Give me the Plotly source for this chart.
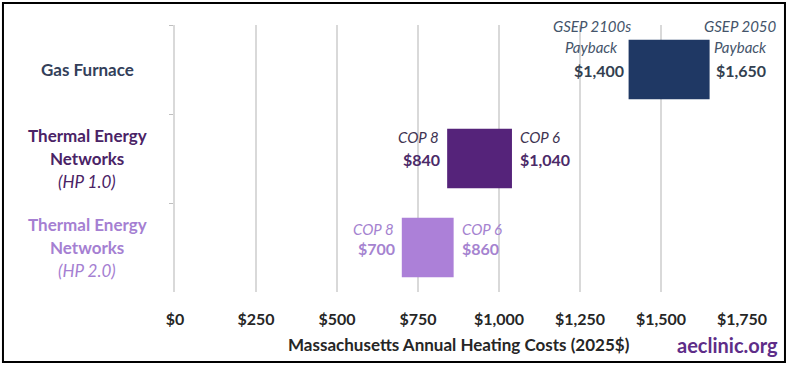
import plotly.graph_objects as go

categories = ["Gas Furnace", "Thermal Energy Networks (HP 1.0)", "Thermal Energy Networks (HP 2.0)"]
label_lines = [["<b>Gas Furnace</b>"],
               ["<b>Thermal Energy</b>", "<b>Networks</b>", "<i>(HP 1.0)</i>"],
               ["<b>Thermal Energy</b>", "<b>Networks</b>", "<i>(HP 2.0)</i>"]]
low_values = [1400, 840, 700]
high_values = [1650, 1040, 860]
low_notes = [["GSEP 2100s", "Payback"], ["COP 8"], ["COP 8"]]
high_notes = [["GSEP 2050", "Payback"], ["COP 6"], ["COP 6"]]
tick_vals = [0, 250, 500, 750, 1000, 1250, 1500, 1750]
tick_text = ["$0", "$250", "$500", "$750", "$1,000", "$1,250", "$1,500", "$1,750"]

bar_colors = ["#1F3864", "#55237A", "#AC80D8"]
label_colors = ["#333F5A", "#4A2366", "#A57FD2"]
note_colors = ["#44546A", "#3F3452", "#A583D0"]
value_colors = ["#333F50", "#4B2A68", "#A583D0"]

FONT = "Lato"

fig = go.Figure()
fig.add_trace(go.Bar(
    y=categories,
    x=[h - l for l, h in zip(low_values, high_values)],
    base=low_values,
    orientation="h",
    width=0.67,
    marker=dict(color=bar_colors, line=dict(width=0)),
    hoverinfo="skip",
))

ann = []


def fmt(v):
    return "${:,}".format(v)


for i, cat in enumerate(categories):
    lo, hi = low_values[i], high_values[i]
    if len(low_notes[i]) == 2:
        for txt, ys in zip(low_notes[i], [44, 23]):
            ann.append(dict(x=lo, y=cat, xref="x", yref="y", text="<i>" + txt + "</i>",
                            xanchor="center", xshift=-37, yshift=ys, showarrow=False,
                            font=dict(family=FONT, size=15, color=note_colors[i])))
        for txt, ys in zip(high_notes[i], [44, 23]):
            ann.append(dict(x=hi, y=cat, xref="x", yref="y", text="<i>" + txt + "</i>",
                            xanchor="center", xshift=31, yshift=ys, showarrow=False,
                            font=dict(family=FONT, size=15, color=note_colors[i])))
        ann.append(dict(x=lo, y=cat, xref="x", yref="y", text="<b>" + fmt(lo) + "</b>",
                        xanchor="right", xshift=-3, yshift=-1, showarrow=False,
                        font=dict(family=FONT, size=16, color=value_colors[i])))
        ann.append(dict(x=hi, y=cat, xref="x", yref="y", text="<b>" + fmt(hi) + "</b>",
                        xanchor="left", xshift=4, yshift=-1, showarrow=False,
                        font=dict(family=FONT, size=16, color=value_colors[i])))
    else:
        ys_note = 22 if i == 1 else 19
        ann.append(dict(x=lo, y=cat, xref="x", yref="y", text="<i>" + low_notes[i][0] + "</i>",
                        xanchor="right", xshift=-6, yshift=ys_note, showarrow=False,
                        font=dict(family=FONT, size=15, color=note_colors[i])))
        ann.append(dict(x=hi, y=cat, xref="x", yref="y", text="<i>" + high_notes[i][0] + "</i>",
                        xanchor="left", xshift=6, yshift=ys_note, showarrow=False,
                        font=dict(family=FONT, size=15, color=note_colors[i])))
        ann.append(dict(x=lo, y=cat, xref="x", yref="y", text="<b>" + fmt(lo) + "</b>",
                        xanchor="right", xshift=-5, yshift=-1, showarrow=False,
                        font=dict(family=FONT, size=16, color=value_colors[i])))
        ann.append(dict(x=hi, y=cat, xref="x", yref="y", text="<b>" + fmt(hi) + "</b>",
                        xanchor="left", xshift=6, yshift=-1, showarrow=False,
                        font=dict(family=FONT, size=16, color=value_colors[i])))
    lines = label_lines[i]
    n = len(lines)
    for k, line in enumerate(lines):
        ys = (n - 1) / 2.0 * 23 - k * 23
        ann.append(dict(x=-0.155, y=cat, xref="paper", yref="y", text=line,
                        xanchor="center", yshift=ys, showarrow=False,
                        font=dict(family=FONT, size=17, color=label_colors[i])))

ann.append(dict(x=0.5, y=-0.1985, xref="paper", yref="paper",
                text="<b>Massachusetts Annual Heating Costs (2025$)</b>",
                xanchor="center", yanchor="middle", showarrow=False,
                font=dict(family=FONT, size=17, color="#262626")))
ann.append(dict(x=(727 - 175) / 567.0, y=-0.1985, xref="paper", yref="paper",
                text="<b>aeclinic.org</b>",
                xanchor="center", yanchor="middle", showarrow=False,
                font=dict(family=FONT, size=20, color="#5E2D88")))

fig.update_layout(
    width=788, height=365,
    margin=dict(l=175, r=46, t=25, b=73),
    paper_bgcolor="white", plot_bgcolor="white",
    showlegend=False,
    annotations=ann,
    shapes=[dict(type="rect", xref="paper", yref="paper",
                 x0=-0.3034, x1=1.0758, y0=-0.2622, y1=1.0824,
                 line=dict(color="black", width=2), fillcolor="rgba(0,0,0,0)")],
    xaxis=dict(range=[0, 1750], tickvals=tick_vals,
               ticktext=["<b>" + t + "</b>" for t in tick_text],
               showgrid=True, gridcolor="#D9D9D9", gridwidth=1.5,
               zeroline=False, showline=False, ticks="",
               ticklabelstandoff=16,
               tickfont=dict(family=FONT, size=16, color="#262626"),
               fixedrange=True),
    yaxis=dict(categoryorder="array", categoryarray=categories, autorange="reversed",
               showticklabels=False, showgrid=False, zeroline=False,
               showline=True, linecolor="#D9D9D9", linewidth=1.5,
               ticks="outside", tickson="boundaries", ticklen=4, tickcolor="#BFBFBF",
               fixedrange=True),
)

fig.write_html("out.html", config={"displayModeBar": False},
               post_script="document.body.style.margin='0';document.body.style.overflow='hidden';")
